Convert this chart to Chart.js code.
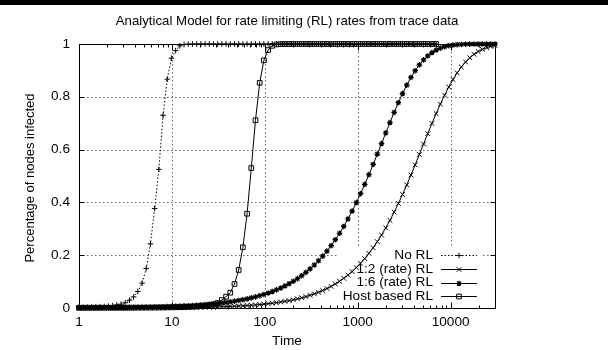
<!DOCTYPE html>
<html>
<head>
<meta charset="utf-8">
<script src="https://cdn.jsdelivr.net/npm/chart.js@4.4.1/dist/chart.umd.min.js"></script>
<style>
  html, body { margin: 0; padding: 0; background: #fff; }
  #wrap { position: relative; width: 608px; height: 350px; }
  #topbar { position: absolute; left: 0; top: 0; width: 608px; height: 5px; background: #000; }
</style>
</head>
<body>
<div id="wrap">
  <canvas id="c" width="608" height="350"></canvas>
  <div id="topbar"></div>
</div>
<script>
// ---------- data ----------
const titleText = 'Analytical Model for rate limiting (RL) rates from trace data';
const xAxisTitle = 'Time';
const yAxisTitle = 'Percentage of nodes infected';
const xTickValues = [1, 10, 100, 1000, 10000];
const xTickLabels = ['1', '10', '100', '1000', '10000'];
const yTickValues = [0, 0.2, 0.4, 0.6, 0.8, 1];
const yTickLabels = ['0', '0.2', '0.4', '0.6', '0.8', '1'];
const seriesLabels = ['No RL', '1:2 (rate) RL', '1:6 (rate) RL', 'Host based RL'];

const times = [
  1, 1.110, 1.232, 1.367, 1.517, 1.683, 1.868, 2.073, 2.301, 2.553,
  2.834, 3.145, 3.490, 3.873, 4.298, 4.770, 5.293, 5.874, 6.519, 7.234,
  8.028, 8.909, 9.884, 10.97, 12.17, 13.51, 14.99, 16.64, 18.46, 20.49,
  22.74, 25.23, 28.00, 31.08, 34.49, 38.27, 42.47, 47.14, 52.31, 58.05,
  64.42, 71.49, 79.34, 88.05, 97.69, 108.4, 120.3, 133.5, 148.2, 164.4,
  182.5, 202.5, 224.7, 249.4, 276.8, 307.1, 340.8, 378.2, 419.7, 465.8,
  516.9, 573.6, 636.6, 706.5, 784.0, 870.0, 965.5, 1071, 1189, 1319,
  1464, 1625, 1803, 2001, 2221, 2464, 2735, 3035, 3368, 3738,
  4148, 4603, 5108, 5669, 6291, 6982, 7748, 8598, 9544, 10590,
  11750, 13040, 14470, 16060, 17830, 19780, 21950, 24360, 27030, 30000
];

const noRL = [
  0.0025, 0.0028, 0.0031, 0.0036, 0.0041, 0.0049, 0.0059, 0.0072, 0.0090, 0.0116,
  0.0145, 0.0200, 0.0295, 0.0420, 0.0625, 0.0940, 0.1500, 0.2430, 0.3770, 0.5250,
  0.7300, 0.8670, 0.9460, 0.9750, 0.9930, 0.9980, 0.9996, 0.9999, 1, 1,
  1, 1, 1, 1, 1, 1, 1, 1, 1, 1,
  1, 1, 1, 1, 1, 1, 1, 1, 1, 1,
  1, 1, 1, 1, 1, 1, 1, 1, 1, 1,
  1, 1, 1, 1, 1, 1, 1, 1, 1, 1,
  1, 1, 1, 1, 1, 1, 1, 1, 1, 1,
  1, 1, 1, 1, 1, 1
];

const rate12 = [
  0.00012, 0.00013, 0.00015, 0.00017, 0.00019, 0.00021, 0.00023, 0.00026, 0.00029, 0.00032,
  0.00036, 0.00040, 0.00044, 0.00049, 0.00055, 0.00061, 0.00069, 0.00077, 0.00085, 0.00095,
  0.00106, 0.00119, 0.00132, 0.00148, 0.00165, 0.00183, 0.00205, 0.00228, 0.00255, 0.00284,
  0.00317, 0.00353, 0.00394, 0.00440, 0.00491, 0.00547, 0.00610, 0.00681, 0.00759, 0.00846,
  0.00944, 0.0105, 0.0117, 0.0131, 0.0146, 0.0163, 0.0181, 0.0202, 0.0226, 0.0251,
  0.0280, 0.0312, 0.0348, 0.0387, 0.0431, 0.0481, 0.0535, 0.0596, 0.0662, 0.0737,
  0.0819, 0.0911, 0.1011, 0.1124, 0.1245, 0.1381, 0.1531, 0.1694, 0.1872, 0.2069,
  0.2281, 0.2513, 0.2762, 0.3032, 0.3320, 0.3631, 0.3958, 0.4302, 0.4663, 0.5038,
  0.5421, 0.5816, 0.6211, 0.6604, 0.6991, 0.7366, 0.7724, 0.8061, 0.8372, 0.8655,
  0.8908, 0.9129, 0.9320, 0.9480, 0.9611, 0.9715, 0.9797, 0.9860, 0.9906, 0.9939
];

const rate16 = [
  0.00067, 0.00074, 0.00082, 0.00090, 0.00100, 0.00110, 0.00122, 0.00134, 0.00148, 0.00164,
  0.00181, 0.00200, 0.00220, 0.00243, 0.00268, 0.00296, 0.00327, 0.00360, 0.00398, 0.00439,
  0.00485, 0.00535, 0.00591, 0.00652, 0.00719, 0.00794, 0.00877, 0.00967, 0.01067, 0.0118,
  0.0130, 0.0143, 0.0158, 0.0175, 0.0193, 0.0213, 0.0235, 0.0259, 0.0286, 0.0315,
  0.0347, 0.0383, 0.0422, 0.0466, 0.0514, 0.0566, 0.0624, 0.0688, 0.0757, 0.0834,
  0.0919, 0.1012, 0.1114, 0.1226, 0.1348, 0.1483, 0.1629, 0.1790, 0.1965, 0.2155,
  0.2361, 0.2587, 0.2829, 0.3089, 0.3372, 0.3673, 0.3992, 0.4329, 0.4683, 0.5053,
  0.5437, 0.5832, 0.6229, 0.6628, 0.7025, 0.7408, 0.7776, 0.8123, 0.8443, 0.8733,
  0.8989, 0.9211, 0.9398, 0.9552, 0.9676, 0.9771, 0.9844, 0.9897, 0.9935, 0.9960,
  0.9977, 0.9987, 0.9993, 0.9997, 0.9998, 0.9999, 1, 1, 1, 1
];

const hostRL = [
  0.0010, 0.0010, 0.0010, 0.0010, 0.0010, 0.0010, 0.0011, 0.0011, 0.0011, 0.0011,
  0.0012, 0.0012, 0.0012, 0.0013, 0.0013, 0.0014, 0.0015, 0.0016, 0.0017, 0.0018,
  0.0019, 0.0021, 0.0023, 0.0026, 0.0029, 0.0033, 0.0039, 0.0046, 0.0055, 0.0067,
  0.0084, 0.0107, 0.0141, 0.0190, 0.0300, 0.0430, 0.0580, 0.0910, 0.1440, 0.2300,
  0.3570, 0.5300, 0.7110, 0.8530, 0.9380, 0.9770, 0.9932, 0.9982, 0.9996, 0.9999,
  1, 1, 1, 1, 1, 1, 1, 1, 1, 1,
  1, 1, 1, 1, 1, 1, 1, 1, 1, 1,
  1, 1, 1, 1, 1, 1, 1, 1, 1, 1,
  1, 1, 1, 1, 1, 1
];

// ---------- helpers ----------
function pairs(vals) { return vals.map((v, i) => ({ x: times[i], y: v })); }

const FONT = '13px "Liberation Sans", Arial, Helvetica, sans-serif';
const SX = 1.05; // slight horizontal stretch of the reference's text

function sText(ctx, txt, x, y, align, rot, sx) {
  ctx.save();
  ctx.translate(x, y);
  ctx.scale(sx || SX, 1);
  if (rot) ctx.rotate(rot);
  ctx.textAlign = align;
  ctx.textBaseline = 'middle';
  ctx.fillText(txt, 0, 0);
  ctx.restore();
}

function drawMarker(ctx, style, r, x, y, fill) {
  ctx.beginPath();
  if (style === 'cross' || style === 'star') {
    ctx.moveTo(x - r, y); ctx.lineTo(x + r, y);
    ctx.moveTo(x, y - r); ctx.lineTo(x, y + r);
  }
  if (style === 'crossRot' || style === 'star') {
    const d = r * Math.SQRT1_2;
    ctx.moveTo(x - d, y - d); ctx.lineTo(x + d, y + d);
    ctx.moveTo(x - d, y + d); ctx.lineTo(x + d, y - d);
  }
  if (style === 'rect') {
    const s = r * Math.SQRT1_2;
    ctx.rect(x - s, y - s, 2 * s, 2 * s);
    if (fill) { ctx.fillStyle = fill; ctx.fill(); }
  }
  ctx.stroke();
}

const KEY = { textRight: 433, lineFrom: 441, lineTo: 477, rows: [255, 269, 282.5, 296],
              box: [337, 248, 146, 55] };

const gnuplotLook = {
  id: 'gnuplotLook',
  beforeDatasetsDraw(chart) {
    const ctx = chart.ctx, a = chart.chartArea, xs = chart.scales.x, ys = chart.scales.y;
    ctx.save();
    ctx.strokeStyle = '#6a6a6a';
    ctx.lineWidth = 1;
    ctx.setLineDash([1.5, 2.5]);
    xTickValues.forEach(v => {
      if (v <= xs.min) return;
      const px = Math.round(xs.getPixelForValue(v)) + 0.5;
      ctx.beginPath(); ctx.moveTo(px, a.top); ctx.lineTo(px, a.bottom); ctx.stroke();
    });
    yTickValues.forEach(v => {
      if (v <= ys.min || v >= ys.max) return;
      const py = Math.round(ys.getPixelForValue(v)) + 0.5;
      ctx.beginPath(); ctx.moveTo(a.left, py); ctx.lineTo(a.right, py); ctx.stroke();
    });
    ctx.setLineDash([]);
    // opaque key background
    ctx.fillStyle = '#fff';
    ctx.fillRect(KEY.box[0], KEY.box[1], KEY.box[2], KEY.box[3]);
    ctx.restore();
  },
  afterDatasetsDraw(chart) {
    const ctx = chart.ctx, a = chart.chartArea, xs = chart.scales.x, ys = chart.scales.y;
    ctx.save();
    ctx.strokeStyle = '#000';
    ctx.fillStyle = '#000';
    ctx.lineWidth = 1;
    ctx.setLineDash([]);
    // frame
    const L = Math.round(a.left) + 0.5, R = Math.round(a.right) + 0.5;
    const T = Math.round(a.top) + 0.5, B = Math.round(a.bottom) + 0.5;
    ctx.strokeRect(L, T, R - L, B - T);
    // x ticks (major + minor, mirrored)
    ctx.beginPath();
    for (let dec = 1; dec <= 10000; dec *= 10) {
      for (let k = 1; k <= 9; k++) {
        const v = dec * k;
        if (v < xs.min || v > xs.max) continue;
        const px = Math.round(xs.getPixelForValue(v)) + 0.5;
        const len = (k === 1) ? 6 : 3;
        ctx.moveTo(px, B); ctx.lineTo(px, B - len);
        ctx.moveTo(px, T); ctx.lineTo(px, T + len);
      }
    }
    // y ticks (mirrored)
    yTickValues.forEach(v => {
      const py = Math.round(ys.getPixelForValue(v)) + 0.5;
      ctx.moveTo(L, py); ctx.lineTo(L + 5, py);
      ctx.moveTo(R, py); ctx.lineTo(R - 5, py);
    });
    ctx.stroke();

    ctx.font = FONT;
    // tick labels
    xTickValues.forEach((v, i) => {
      sText(ctx, xTickLabels[i], xs.getPixelForValue(v), 322, 'center');
    });
    yTickValues.forEach((v, i) => {
      sText(ctx, yTickLabels[i], 70, ys.getPixelForValue(v), 'right');
    });
    // axis titles
    sText(ctx, xAxisTitle, (a.left + a.right) / 2, 341, 'center');
    sText(ctx, yAxisTitle, 30, (a.top + a.bottom) / 2 + 2, 'center', -Math.PI / 2, 1.0);
    // title
    sText(ctx, titleText, 287, 21, 'center', 0, 1.02);

    // key (gnuplot style: text right-aligned, sample on the right)
    chart.data.datasets.forEach((ds, i) => {
      const y = KEY.rows[i];
      ctx.fillStyle = '#000';
      sText(ctx, ds.label, KEY.textRight, y, 'right');
      ctx.strokeStyle = '#000';
      ctx.lineWidth = ds.borderWidth;
      ctx.setLineDash(ds.borderDash || []);
      const yy = Math.round(y) + 0.5;
      ctx.beginPath(); ctx.moveTo(KEY.lineFrom, yy); ctx.lineTo(KEY.lineTo, yy); ctx.stroke();
      ctx.setLineDash([]);
      ctx.lineWidth = ds.pointBorderWidth;
      drawMarker(ctx, ds.pointStyle, ds.pointRadius, (KEY.lineFrom + KEY.lineTo) / 2, yy,
        ds.pointBackgroundColor === '#000' ? '#000' : null);
    });
    ctx.restore();
  }
};

const common = {
  borderColor: '#000',
  pointBorderColor: '#000',
  tension: 0,
  clip: false,
  pointHoverRadius: 0,
  fill: false
};

new Chart(document.getElementById('c'), {
  type: 'line',
  data: {
    datasets: [
      Object.assign({}, common, {
        label: seriesLabels[0], data: pairs(noRL),
        borderWidth: 1, borderDash: [1.5, 2],
        pointStyle: 'cross', pointRadius: 2.8, pointBorderWidth: 1,
        pointBackgroundColor: 'rgba(0,0,0,0)'
      }),
      Object.assign({}, common, {
        label: seriesLabels[1], data: pairs(rate12),
        borderWidth: 1,
        pointStyle: 'crossRot', pointRadius: 3.3, pointBorderWidth: 1,
        pointBackgroundColor: 'rgba(0,0,0,0)'
      }),
      Object.assign({}, common, {
        label: seriesLabels[2], data: pairs(rate16),
        borderWidth: 1,
        pointStyle: 'star', pointRadius: 2.8, pointBorderWidth: 1.2,
        pointBackgroundColor: '#000'
      }),
      Object.assign({}, common, {
        label: seriesLabels[3], data: pairs(hostRL),
        borderWidth: 1,
        pointStyle: 'rect', pointRadius: 3.3, pointBorderWidth: 1,
        pointBackgroundColor: 'rgba(0,0,0,0)'
      })
    ]
  },
  options: {
    responsive: false,
    animation: false,
    devicePixelRatio: 1,
    layout: { padding: { left: 79, right: 113, top: 44, bottom: 42 } },
    plugins: { legend: { display: false }, tooltip: { enabled: false }, title: { display: false } },
    events: [],
    scales: {
      x: { type: 'logarithmic', min: 1, max: 30000, display: false },
      y: { type: 'linear', min: 0, max: 1, display: false }
    }
  },
  plugins: [gnuplotLook]
});
</script>
</body>
</html>
